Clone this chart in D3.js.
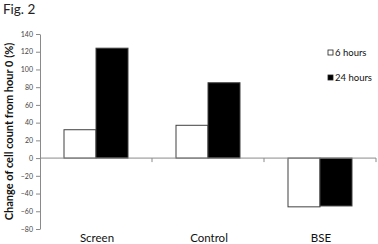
<!DOCTYPE html>
<html>
<head>
<meta charset="utf-8">
<script src="https://cdn.jsdelivr.net/npm/d3@7"></script>
<style>
  body { margin: 0; background: #fff; }
  svg { display: block; font-family: Lato, "Open Sans", sans-serif; }
</style>
</head>
<body>
<div id="chart"></div>
<script>
// Chart data
const categories = ["Screen", "Control", "BSE"];
const seriesNames = ["6 hours", "24 hours"];
const hours6 = [32, 37, -55];
const hours24 = [124, 85, -54];
const yTicks = [-80, -60, -40, -20, 0, 20, 40, 60, 80, 100, 120, 140];

const width = 378, height = 244;
const plotLeft = 40, plotRight = 376;
const plotTop = 34, plotBottom = 229;

const svg = d3.select("#chart").append("svg")
  .attr("width", width)
  .attr("height", height);

// Scales
const x = d3.scaleBand()
  .domain(categories)
  .range([plotLeft, plotRight])
  .padding(0);

const xSeries = d3.scaleBand()
  .domain(seriesNames)
  .range([24, 88])
  .padding(0);

const y = d3.scaleLinear()
  .domain([-80, 140])
  .range([plotBottom, plotTop]);

const fills = { "6 hours": "#ffffff", "24 hours": "#000000" };

// Figure label
svg.append("text")
  .attr("x", 3)
  .attr("y", 14)
  .attr("font-size", "13.5px")
  .attr("fill", "#222")
  .text("Fig. 2");

// Y axis
const yAxis = svg.append("g")
  .attr("transform", `translate(${plotLeft},0)`)
  .call(d3.axisLeft(y).tickValues(yTicks).tickSize(4).tickSizeOuter(0).tickPadding(3));

yAxis.select(".domain").attr("stroke", "#8a8a8a");
yAxis.selectAll(".tick line").attr("stroke", "#8a8a8a");
yAxis.selectAll(".tick text")
  .attr("font-family", "Lato, sans-serif")
  .attr("font-size", "7px")
  .attr("fill", "#444");

// Y axis title
svg.append("text")
  .attr("transform", `translate(13, ${(plotTop + plotBottom) / 2}) rotate(-90)`)
  .attr("text-anchor", "middle")
  .attr("font-size", "11px")
  .attr("font-weight", "bold")
  .attr("fill", "#111")
  .text("Change of cell count from hour 0 (%)");

// Bars
const rows = categories.map((c, i) => ({ category: c, values: [
  { series: "6 hours", value: hours6[i] },
  { series: "24 hours", value: hours24[i] }
]}));

const groups = svg.append("g")
  .selectAll("g")
  .data(rows)
  .enter()
  .append("g")
  .attr("transform", d => `translate(${x(d.category)},0)`);

groups.selectAll("rect")
  .data(d => d.values)
  .enter()
  .append("rect")
  .attr("x", d => xSeries(d.series))
  .attr("y", d => y(Math.max(0, d.value)))
  .attr("width", xSeries.bandwidth())
  .attr("height", d => Math.abs(y(d.value) - y(0)))
  .attr("fill", d => fills[d.series])
  .attr("stroke", "#404040")
  .attr("stroke-width", 1);

// Zero line (category axis)
const xAxis = svg.append("g")
  .attr("transform", `translate(0,${y(0)})`);

xAxis.append("line")
  .attr("x1", plotLeft)
  .attr("x2", plotRight)
  .attr("stroke", "#8a8a8a");

xAxis.selectAll(".cat-tick")
  .data(categories.slice(1).concat(["end"]))
  .enter()
  .append("line")
  .attr("class", "cat-tick")
  .attr("x1", (d, i) => x(categories[0]) + (i + 1) * x.step())
  .attr("x2", (d, i) => x(categories[0]) + (i + 1) * x.step())
  .attr("y1", 0)
  .attr("y2", 4)
  .attr("stroke", "#8a8a8a");

// Category labels
svg.append("g")
  .selectAll("text")
  .data(categories)
  .enter()
  .append("text")
  .attr("x", d => x(d) + x.bandwidth() / 2 + 1)
  .attr("y", 242)
  .attr("text-anchor", "middle")
  .attr("font-size", "11.5px")
  .attr("fill", "#111")
  .text(d => d);

// Legend
const legend = svg.append("g")
  .attr("transform", "translate(328,49)");

const legendItems = legend.selectAll("g")
  .data(seriesNames)
  .enter()
  .append("g")
  .attr("transform", (d, i) => `translate(0,${i * 25})`);

legendItems.append("rect")
  .attr("x", 0)
  .attr("y", 1)
  .attr("width", 5)
  .attr("height", 5)
  .attr("fill", d => fills[d])
  .attr("stroke", "#222")
  .attr("stroke-width", 0.8);

legendItems.append("text")
  .attr("x", 7)
  .attr("y", 7)
  .attr("font-size", "9.5px")
  .attr("fill", "#111")
  .text(d => d);
</script>
</body>
</html>
